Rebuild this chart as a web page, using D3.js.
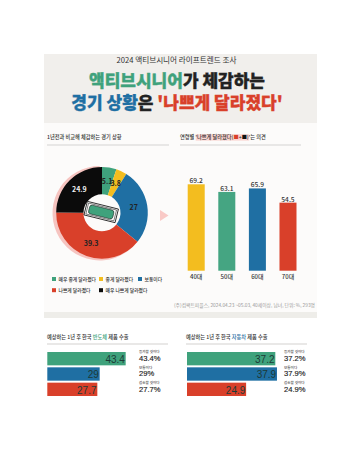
<!DOCTYPE html>
<html>
<head>
<meta charset="utf-8">
<script src="https://cdn.jsdelivr.net/npm/d3@7"></script>
<style>
  html, body { margin: 0; padding: 0; background: #fff; }
  svg { display: block; font-family: "Noto Sans CJK KR", sans-serif; }
</style>
</head>
<body>
<svg id="chart" width="359" height="454"></svg>
<script>
// Donut: economy compared to a year ago
const moodLabels = ["매우 좋게 달라졌다", "좋게 달라졌다", "보통이다", "나쁘게 달라졌다", "매우 나쁘게 달라졌다"];
const moodValues = [5.1, 3.8, 27, 39.3, 24.9];
const moodColors = ["#3fa27c", "#f3bd1f", "#1f6fa3", "#d9402a", "#0b0b0b"];

// Bars: "worse" share by age group
const ageLabels = ["40대", "50대", "60대", "70대"];
const ageValues = [69.2, 63.1, 65.9, 54.5];
const ageColors = ["#f3bd1f", "#45a582", "#1f6fa3", "#d9402a"];

// Horizontal bars: exports outlook
const outlookLabels = ["증가할 것이다", "보통이다", "감소할 것이다"];
const outlookColors = ["#3fa27c", "#1f6fa3", "#d9402a"];
const chipValues = [43.4, 29, 27.7];
const carValues = [37.2, 37.9, 24.9];

const svg = d3.select("#chart");

function txt(x, y, s, size, color, weight, anchor) {
    return svg.append("text")
        .attr("x", x).attr("y", y)
        .attr("text-anchor", anchor || "start")
        .attr("fill", color || "#333")
        .style("font-size", size + "px")
        .style("font-weight", weight || 400)
        .text(s);
}

// panels
svg.append("rect").attr("x", 44).attr("y", 54).attr("width", 273).attr("height", 69).attr("fill", "#f1efec");
svg.append("rect").attr("x", 44).attr("y", 123).attr("width", 273).attr("height", 189).attr("fill", "#fcfbfa");
svg.append("rect").attr("x", 44).attr("y", 312).attr("width", 273).attr("height", 6).attr("fill", "#eeede9");

// header
txt(176.5, 63, "2024 액티브시니어 라이프트렌드 조사", 7.6, "#333", 400, "middle");

const title1 = svg.append("text").attr("x", 177).attr("y", 86.5).attr("text-anchor", "middle")
    .style("font-size", "17px").style("font-weight", 900).attr("stroke-width", 0.35);
title1.append("tspan").attr("fill", "#3fa27c").attr("stroke", "#3fa27c").text("액티브시니어");
title1.append("tspan").attr("fill", "#222").attr("stroke", "#222").text("가 체감하는");

const title2 = svg.append("text").attr("x", 177).attr("y", 108.5).attr("text-anchor", "middle")
    .style("font-size", "17px").style("font-weight", 900).attr("stroke-width", 0.35);
title2.append("tspan").attr("fill", "#1f6fa3").attr("stroke", "#1f6fa3").text("경기 상황");
title2.append("tspan").attr("fill", "#222").attr("stroke", "#222").text("은 ");
title2.append("tspan").attr("fill", "#d9402a").attr("stroke", "#d9402a").text("'나쁘게 달라졌다'");

// section headings
function heading(x, x2, y, gap, parts) {
    const t = svg.append("text").attr("x", x).attr("y", y).style("font-size", "5.2px").style("font-weight", 500);
    parts.forEach(p => t.append("tspan").attr("fill", p[1] || "#333").text(p[0]));
    svg.append("line").attr("x1", x).attr("x2", x2).attr("y1", y + gap).attr("y2", y + gap)
        .attr("stroke", "#e2e1df").attr("stroke-width", 1.4);
}
svg.append("rect").attr("x", 195.7).attr("y", 134.2).attr("width", 53.5).attr("height", 6.4).attr("fill", "#fbd5d1");
heading(47, 169, 138.5, 6.5, [["1년전과 비교해 체감하는 경기 상황"]]);
heading(180, 301, 138.5, 6.5, [["연령별 '나쁘게 달라졌다("], ["■", "#d9402a"], ["+"], ["■", "#111"], [")'는 의견"]]);
heading(47, 168, 339, 5, [["예상하는 1년 후 한국 "], ["반도체", "#3fa27c"], [" 제품 수출"]]);
heading(186, 307, 339, 5, [["예상하는 1년 후 한국 "], ["자동차", "#1f6fa3"], [" 제품 수출"]]);

// donut
const cx = 102, cy = 212.8;
const pie = d3.pie().sort(null)(moodValues);
const arc = d3.arc().innerRadius(18.5).outerRadius(45.8);
const donut = svg.append("g").attr("transform", `translate(${cx},${cy})`);

// pink backing arc
const backing = d3.arc().innerRadius(42).outerRadius(47.2).startAngle(2.3).endAngle(Math.PI * 2);
donut.append("path").attr("d", backing()).attr("transform", "translate(-2.3,0.4)").attr("fill", "#f6c4c0");

donut.selectAll("path.slice").data(pie).join("path")
    .attr("class", "slice")
    .attr("d", arc)
    .attr("fill", (d, i) => moodColors[i]);

donut.selectAll("text").data(pie).join("text")
    .attr("transform", d => {
        const c = arc.centroid(d);
        return `translate(${c[0]},${c[1] + 2.5})`;
    })
    .attr("text-anchor", "middle")
    .attr("fill", (d, i) => i === 4 ? "#f2f2f2" : "#222")
    .style("font-size", "7px")
    .style("font-weight", 700)
    .text(d => d.data);

// banknote icon in the hole
const icon = donut.append("g").attr("transform", "translate(-0.8,-0.8) rotate(14)");
icon.append("rect").attr("x", -16).attr("y", -7).attr("width", 32).attr("height", 14)
    .attr("fill", "#fff").attr("stroke", "#111").attr("stroke-width", 0.8);
icon.append("rect").attr("x", -14.4).attr("y", -5.6).attr("width", 28.8).attr("height", 11.2)
    .attr("fill", "none").attr("stroke", "#111").attr("stroke-width", 0.5);
icon.append("rect").attr("x", -12.5).attr("y", -4.5).attr("width", 25).attr("height", 9).attr("rx", 2.5)
    .attr("fill", "#3fa27c").attr("stroke", "#111").attr("stroke-width", 0.5);

// donut legend
const legendX = [52, 99, 138, 52, 99];
const legendY = [279, 279, 279, 290.2, 290.2];
moodLabels.forEach((d, i) => {
    svg.append("rect").attr("x", legendX[i]).attr("y", legendY[i] - 2)
        .attr("width", 4).attr("height", 4).attr("fill", moodColors[i]);
    txt(legendX[i] + 6.5, legendY[i] + 1.8, d, 4.8, "#333", 500);
});

// small arrow between panels
svg.append("path").attr("d", d3.line()([[160, 210], [168.5, 215.5], [160, 221]])).attr("fill", "#f9c9c6");

// age bars
const xAge = d3.scaleBand().domain(ageLabels).range([187.7, 296.5]).paddingInner(0.444).paddingOuter(0);
const yAge = d3.scaleLinear().domain([0, 69.2]).range([270.7, 184.3]);

svg.selectAll("rect.age").data(ageValues).join("rect")
    .attr("class", "age")
    .attr("x", (d, i) => xAge(ageLabels[i]))
    .attr("y", d => yAge(d))
    .attr("width", xAge.bandwidth())
    .attr("height", d => yAge(0) - yAge(d))
    .attr("fill", (d, i) => ageColors[i]);

ageValues.forEach((d, i) => {
    txt(xAge(ageLabels[i]) + xAge.bandwidth() / 2, yAge(d) - 1, d, 6.6, "#333", 500, "middle");
    txt(xAge(ageLabels[i]) + xAge.bandwidth() / 2, 278.6, ageLabels[i], 6, "#333", 500, "middle");
});

txt(174, 306.8, "(주)컴팩트피플스, 2024.04.23 ~05.03, 40세이상, 남녀, 단위: %, 293명", 4.9, "#999", 400)
    .attr("textLength", 141).attr("lengthAdjust", "spacingAndGlyphs");

// outlook bars
function outlook(values, x0, pxPerUnit, noteX) {
    const xs = d3.scaleLinear().domain([0, 100]).range([x0, x0 + pxPerUnit * 100]);
    const ys = d3.scaleBand().domain(outlookLabels).range([352, 396]).paddingInner(0.13);
    values.forEach((v, i) => {
        const y = ys(outlookLabels[i]);
        svg.append("rect")
            .attr("x", x0).attr("y", y)
            .attr("width", xs(v) - x0).attr("height", ys.bandwidth())
            .attr("fill", outlookColors[i]);
        txt(xs(v) - 0.8, y + ys.bandwidth() - 2.5, v, 10, "#1d3a36", 400, "end")
            .style("font-family", "'Liberation Sans', sans-serif");
        txt(noteX, y + 1.2, outlookLabels[i], 3.6, "#444", 500);
        txt(noteX, y + 9, v + "%", 7.6, "#222", 400)
            .attr("stroke", "#222").attr("stroke-width", 0.15)
            .style("font-family", "'Liberation Sans', sans-serif");
    });
}
outlook(chipValues, 47.3, 1.806, 139);
outlook(carValues, 187, 2.374, 284);
</script>
</body>
</html>
